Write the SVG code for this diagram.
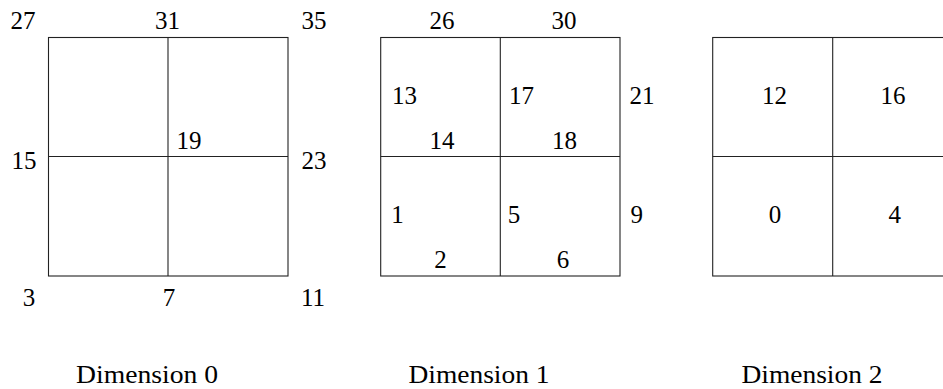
<svg xmlns="http://www.w3.org/2000/svg" width="943" height="389" viewBox="0 0 943 389">
<style>
text{font-size:25px;fill:#000;text-anchor:middle}
.g{fill:none;stroke:#222;stroke-width:1.1}
</style>
<rect width="943" height="389" fill="#fff"/>
<g id="dim0" font-family="Liberation Serif, DejaVu Serif, serif">
<rect class="g" x="48.5" y="37.5" width="239.5" height="238.5"/>
<line class="g" x1="168" y1="37.5" x2="168" y2="276"/>
<line class="g" x1="48.5" y1="156.5" x2="288" y2="156.5"/>
<text x="23" y="29">27</text>
<text x="167.5" y="29">31</text>
<text x="314" y="29">35</text>
<text x="24" y="169">15</text>
<text x="189" y="149">19</text>
<text x="314" y="169">23</text>
<text x="29" y="306">3</text>
<text x="169" y="306">7</text>
<text x="313" y="306">11</text>
<text x="147" y="383" textLength="142" lengthAdjust="spacingAndGlyphs">Dimension 0</text>
</g>
<g id="dim1" font-family="Liberation Serif, DejaVu Serif, serif">
<rect class="g" x="380.7" y="37.5" width="239.3" height="238.5"/>
<line class="g" x1="500.3" y1="37.5" x2="500.3" y2="276"/>
<line class="g" x1="380.7" y1="156.5" x2="620" y2="156.5"/>
<text x="442" y="29">26</text>
<text x="564" y="29">30</text>
<text x="404.5" y="104">13</text>
<text x="521.5" y="104">17</text>
<text x="642" y="104">21</text>
<text x="442" y="149">14</text>
<text x="564.5" y="149">18</text>
<text x="397.5" y="222.5">1</text>
<text x="514" y="222.5">5</text>
<text x="636.7" y="222.5">9</text>
<text x="440.5" y="268">2</text>
<text x="563" y="268">6</text>
<text x="479" y="383" textLength="141" lengthAdjust="spacingAndGlyphs">Dimension 1</text>
</g>
<g id="dim2" font-family="Liberation Serif, DejaVu Serif, serif">
<rect class="g" x="712.7" y="37.5" width="240" height="238.5"/>
<line class="g" x1="832.7" y1="37.5" x2="832.7" y2="276"/>
<line class="g" x1="712.7" y1="156.5" x2="952.7" y2="156.5"/>
<text x="774.5" y="104">12</text>
<text x="893" y="104">16</text>
<text x="775" y="222.5">0</text>
<text x="894.7" y="222.5">4</text>
<text x="812" y="383" textLength="141" lengthAdjust="spacingAndGlyphs">Dimension 2</text>
</g>
<g id="connectors"></g>
</svg>
